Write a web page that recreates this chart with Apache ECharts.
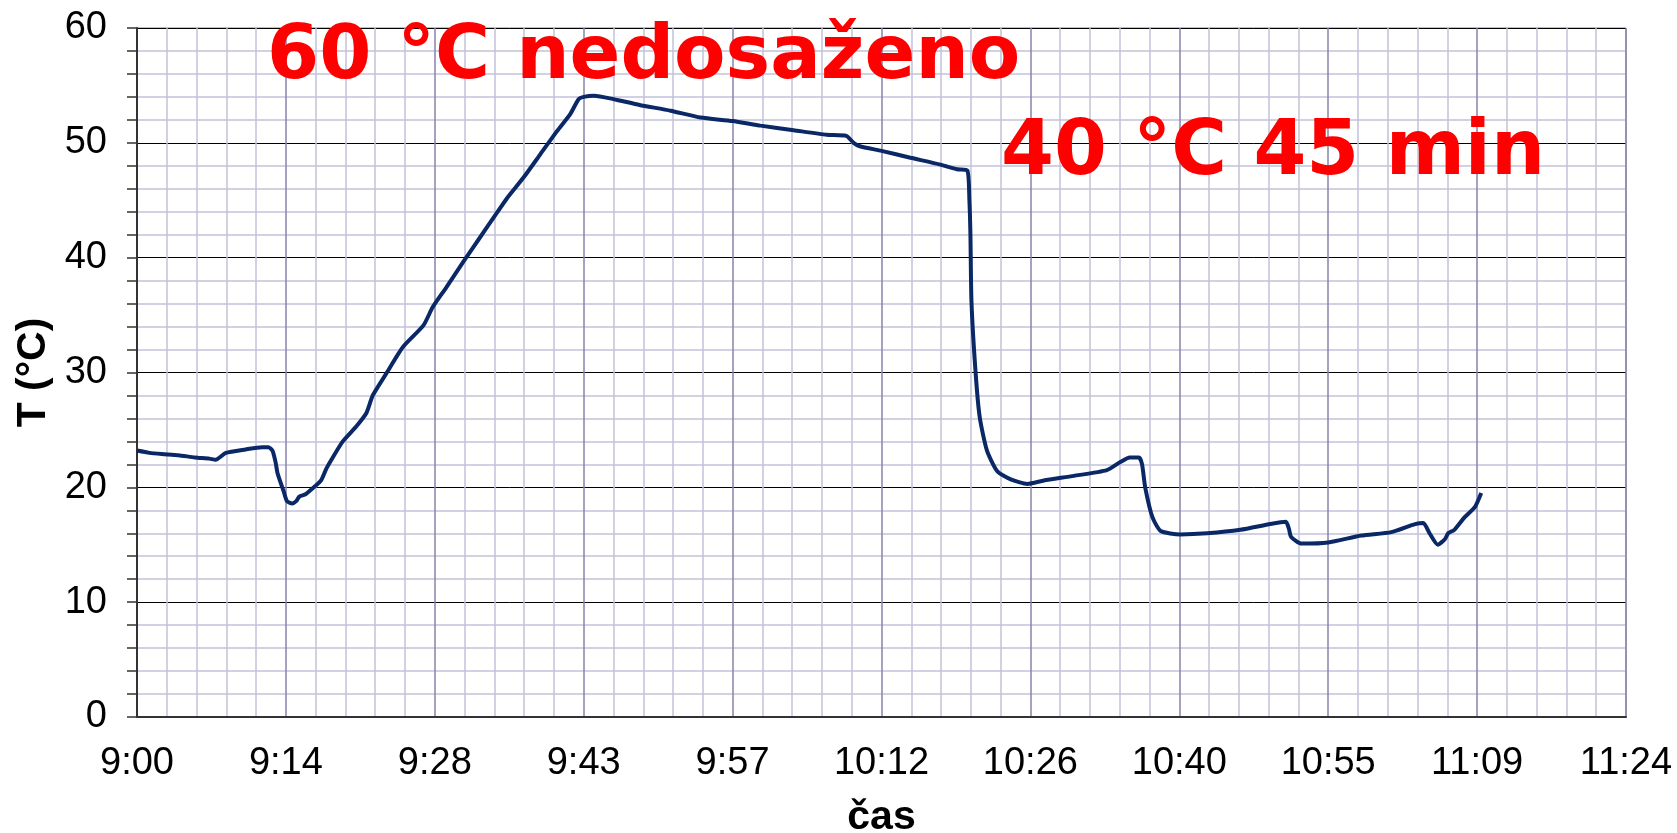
<!DOCTYPE html>
<html>
<head>
<meta charset="utf-8">
<script src="https://cdn.jsdelivr.net/npm/echarts@6/dist/echarts.min.js"></script>
<style>
  html, body { margin: 0; padding: 0; background: #fff; }
  #chart { width: 1677px; height: 833px; }
</style>
</head>
<body>
<div id="chart"></div>
<script>
// minutes after 9:00
var timeMin = [
  0, 1.2, 2.4, 4.0, 5.6, 7.0, 7.6, 8.6, 10.5, 12.1, 12.7, 13.1, 13.4, 13.6,
  14.2, 14.5, 15.0, 15.4, 15.7, 16.3, 17.1, 17.8, 18.3, 18.8, 19.9, 21.2,
  22.2, 22.8, 24.1, 25.7, 27.7, 28.6, 29.9, 31.6, 33.2, 34.5, 35.8, 37.4,
  39.0, 40.6, 41.9, 42.7, 43.2, 44.2, 46.1, 48.6, 51.6, 54.5, 57.6, 60.3,
  63.5, 66.7, 68.6, 69.3, 69.9, 72.0, 74.8, 77.7, 79.3, 80.3, 80.5, 80.6,
  80.7, 81.1, 81.5, 82.2, 83.2, 84.5, 86.1, 87.7, 90.6, 93.8, 95.1, 96.0,
  96.9, 97.2, 97.5, 98.2, 99.0, 100.9, 103.5, 106.7, 109.6, 111.1, 111.4,
  111.6, 112.6, 115.2, 118.4, 121.3, 123.6, 124.4, 125.0, 125.8, 126.5,
  126.8, 127.4, 128.4, 129.4, 130.0
];
var tempC = [
  23.2, 23.0, 22.9, 22.8, 22.6, 22.5, 22.4, 23.0, 23.3, 23.5, 23.5, 23.2, 22.2, 21.2,
  19.6, 18.8, 18.6, 18.8, 19.2, 19.4, 20.0, 20.6, 21.6, 22.4, 24.0, 25.3,
  26.5, 28.0, 29.9, 32.2, 34.1, 35.7, 37.4, 39.7, 41.8, 43.5, 45.2, 47.0,
  49.0, 51.0, 52.5, 53.8, 54.0, 54.1, 53.8, 53.3, 52.8, 52.2, 51.9, 51.5,
  51.1, 50.7, 50.6, 50.0, 49.7, 49.3, 48.7, 48.1, 47.7, 47.6, 45.0, 42.0,
  36.2, 30.0, 26.1, 23.2, 21.4, 20.7, 20.3, 20.6, 21.0, 21.5, 22.2, 22.6,
  22.6, 22.0, 20.0, 17.4, 16.2, 15.9, 16.0, 16.3, 16.8, 17.0, 16.4,
  15.7, 15.1, 15.2, 15.8, 16.1, 16.8, 16.9, 16.0, 15.0, 15.5,
  16.0, 16.3, 17.4, 18.3, 19.5
];
var noteTexts = ["60 °C nedosaženo", "40 °C 45 min"];

var chart = echarts.init(document.getElementById("chart"));

var points = [];
for (var i = 0; i < timeMin.length; i++) {
  points.push([timeMin[i], tempC[i]]);
}

function timeLabel(v) {
  var t = Math.round(v * 10) / 10;
  var total = 540 + t;
  var h = Math.floor(total / 60);
  var m = Math.floor(total - h * 60 + 1e-6);
  return h + ":" + (m < 10 ? "0" + m : m);
}

var option = {
  animation: false,
  grid: {
    left: 137,
    right: 51,
    top: 28,
    bottom: 116,
    containLabel: false,
    outerBoundsMode: "none",
    show: true,
    borderColor: "#808080",
    borderWidth: 1,
  },
  xAxis: {
    type: "value",
    min: 0,
    max: 144,
    interval: 14.4,
    name: "čas",
    nameLocation: "middle",
    nameGap: 80,
    nameTextStyle: {
      fontFamily: "Liberation Sans",
      fontWeight: "bold",
      fontSize: 41,
      color: "#000",
    },
    axisLine: { lineStyle: { color: "#333", width: 2 } },
    axisTick: { show: false },
    axisLabel: {
      margin: 28,
      fontFamily: "Liberation Sans",
      fontSize: 38,
      color: "#000",
      formatter: timeLabel,
    },
    splitLine: { lineStyle: { color: "#8484ac", width: 1.5 } },
    minorTick: { show: false, splitNumber: 5 },
    minorSplitLine: { show: true, lineStyle: { color: "#c2c2da", width: 1.5 } },
  },
  yAxis: {
    type: "value",
    min: 0,
    max: 60,
    interval: 10,
    name: "T (°C)",
    nameLocation: "middle",
    nameGap: 75,
    nameRotate: 90,
    nameTextStyle: {
      fontFamily: "Liberation Sans",
      fontWeight: "bold",
      fontSize: 41,
      color: "#000",
    },
    axisLine: { show: true, lineStyle: { color: "#333", width: 2 } },
    axisTick: { show: true, inside: false, length: 10, lineStyle: { color: "#333", width: 1.5 } },
    minorTick: { show: true, splitNumber: 5, length: 10, lineStyle: { color: "#333", width: 1.5 } },
    axisLabel: {
      margin: 30,
      fontFamily: "Liberation Sans",
      fontSize: 38,
      color: "#000",
    },
    splitLine: { lineStyle: { color: "#000", width: 1 } },
    minorSplitLine: { show: true, lineStyle: { color: "#c2c2da", width: 1.5 } },
  },
  series: [
    {
      type: "line",
      data: points,
      showSymbol: false,
      smooth: 0.2,
      lineStyle: { color: "#0a2866", width: 4 },
      z: 5,
    },
  ],
  graphic: [
    {
      type: "text",
      left: 267,
      top: 21,
      z: 10,
      style: {
        text: noteTexts[0],
        font: "bold 75px 'DejaVu Sans'",
        fill: "#ff0000",
      },
    },
    {
      type: "text",
      left: 1001,
      top: 116,
      z: 10,
      style: {
        text: noteTexts[1],
        font: "bold 76px 'DejaVu Sans'",
        fill: "#ff0000",
      },
    },
  ],
};

chart.setOption(option);
</script>
</body>
</html>
